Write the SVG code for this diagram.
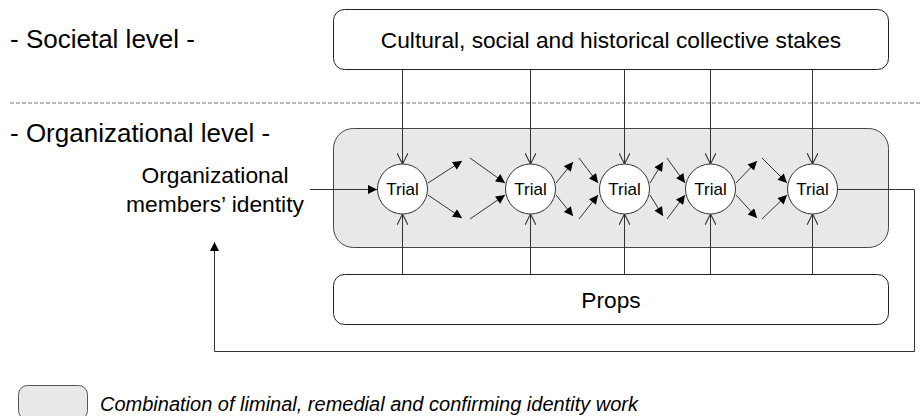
<svg xmlns="http://www.w3.org/2000/svg" width="920" height="416" viewBox="0 0 920 416">
<defs>
<marker id="fa" viewBox="0 0 10 10" refX="10" refY="5" markerWidth="11" markerHeight="9" markerUnits="userSpaceOnUse" orient="auto"><path d="M0,0 L10,5 L0,10 z" fill="#000"/></marker>
<marker id="oa" viewBox="0 0 10 10" refX="10" refY="5" markerWidth="11" markerHeight="11" markerUnits="userSpaceOnUse" orient="auto"><path d="M0,0 L10,5 L0,10" fill="none" stroke="#333" stroke-width="1"/></marker>
</defs>
<style>
text{font-family:"Liberation Sans",Arial,sans-serif;fill:#000}
.box{fill:#fff;stroke:#222;stroke-width:1}
.c{stroke:#333;stroke-width:1;fill:none}
.f{marker-end:url(#fa)}
.o{marker-end:url(#oa)}
.trial{fill:#fff;stroke:#333;stroke-width:1}
.tt{font-size:17px;text-anchor:middle}
</style>
<rect width="920" height="416" fill="#fff"/>
<text x="10" y="48" font-size="26">- Societal level -</text>
<line x1="10" y1="103" x2="920" y2="103" stroke="#777" stroke-width="1" stroke-dasharray="4,2"/>
<text x="10" y="142" font-size="26">- Organizational level -</text>
<g id="identity"><text x="215" y="183" font-size="22.8" text-anchor="middle">Organizational</text><text x="215" y="212" font-size="22.8" text-anchor="middle">members’ identity</text></g>
<g id="stakes"><rect class="box" x="333.5" y="9.5" width="555" height="60" rx="11"/><text x="611" y="48" font-size="22.7" text-anchor="middle">Cultural, social and historical collective stakes</text></g>
<g id="liminal"><rect x="333.5" y="128.5" width="555" height="119" rx="20" fill="#e8e8e8" stroke="#444"/></g>
<g id="props"><rect class="box" x="333.5" y="274.5" width="555" height="50" rx="11"/><text x="611" y="308" font-size="22.7" text-anchor="middle">Props</text></g>
<g id="connectors">
<path class="c o" d="M402.5,70 V164"/><path class="c o" d="M530.5,70 V164"/><path class="c o" d="M624.5,70 V164"/><path class="c o" d="M710.5,70 V164"/><path class="c o" d="M812.5,70 V164"/>
<path class="c o" d="M402.5,274 V214"/><path class="c o" d="M530.5,274 V214"/><path class="c o" d="M624.5,274 V214"/><path class="c o" d="M710.5,274 V214"/><path class="c o" d="M812.5,274 V214"/>
<path class="c f" d="M310,189.5 H377"/>
<path class="c f" d="M428,183 L462,161"/><path class="c f" d="M428,195 L462,218"/><path class="c f" d="M470,158 L505,183"/><path class="c f" d="M470,219 L505,195"/>
<path class="c f" d="M556,183 L573,162"/><path class="c f" d="M556,195 L573,216"/><path class="c f" d="M579,158 L598,183"/><path class="c f" d="M579,219 L598,195"/>
<path class="c f" d="M650,183 L663,162"/><path class="c f" d="M650,195 L663,216"/><path class="c f" d="M667,158 L685,183"/><path class="c f" d="M667,219 L685,195"/>
<path class="c f" d="M736,183 L757,161"/><path class="c f" d="M736,195 L757,218"/><path class="c f" d="M762,158 L787,183"/><path class="c f" d="M762,219 L787,195"/>
<path class="c f" d="M837,189.5 H914.5 V351.5 H214.5 V242"/>
</g>
<g id="trial1"><circle class="trial" cx="402.5" cy="189" r="25"/><text class="tt" x="402.5" y="195">Trial</text></g>
<g id="trial2"><circle class="trial" cx="530.5" cy="189" r="25"/><text class="tt" x="530.5" y="195">Trial</text></g>
<g id="trial3"><circle class="trial" cx="624.5" cy="189" r="25"/><text class="tt" x="624.5" y="195">Trial</text></g>
<g id="trial4"><circle class="trial" cx="710.5" cy="189" r="25"/><text class="tt" x="710.5" y="195">Trial</text></g>
<g id="trial5"><circle class="trial" cx="812.5" cy="189" r="25"/><text class="tt" x="812.5" y="195">Trial</text></g>
<g id="legend"><rect x="18.5" y="385.5" width="69" height="34" rx="9" fill="#e8e8e8" stroke="#555"/><text x="100" y="411" font-size="20" font-style="italic">Combination of liminal, remedial and confirming identity work</text></g>
</svg>
